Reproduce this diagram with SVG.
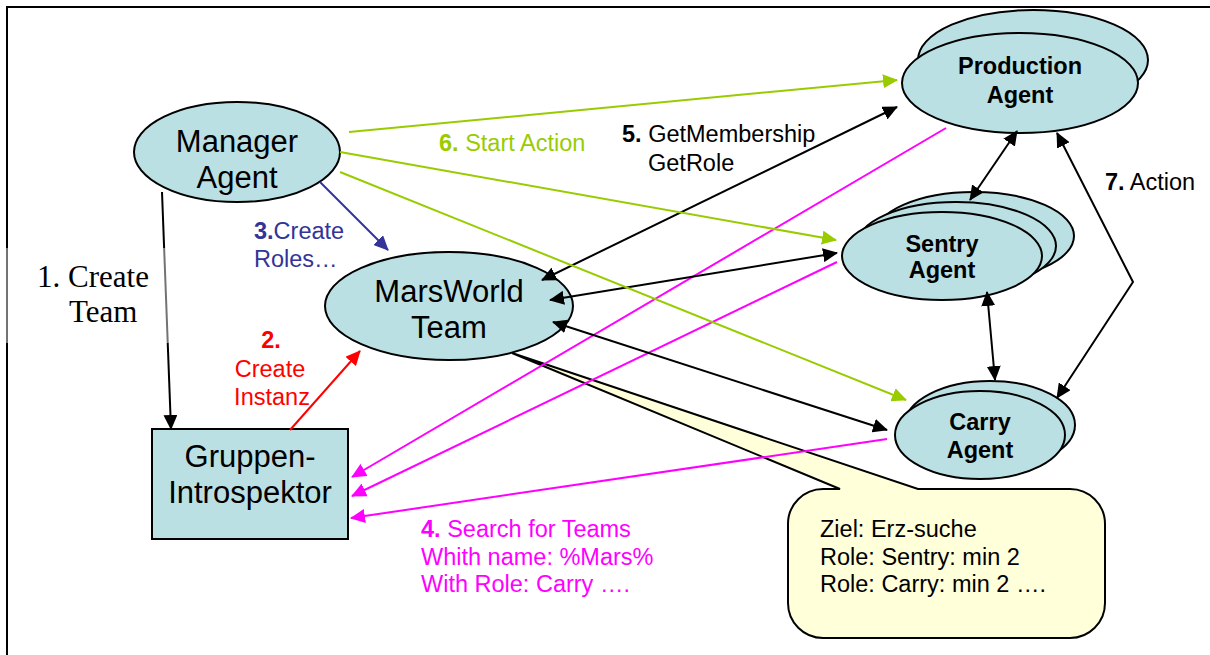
<svg xmlns="http://www.w3.org/2000/svg" width="1210" height="655" viewBox="0 0 1210 655">
  <style>
    .node { fill: #BBE0E3; stroke: #000; stroke-width: 2; }
    .big { font-family: "Liberation Sans", Arial, sans-serif; font-size: 31px; fill: #000; text-anchor: middle; }
    .agent { font-family: "Liberation Sans", Arial, sans-serif; font-size: 23.5px; font-weight: bold; fill: #000; text-anchor: middle; }
    .lbl { font-family: "Liberation Sans", Arial, sans-serif; font-size: 23.5px; }
    .serif { font-family: "Liberation Serif", "Times New Roman", serif; font-size: 31px; fill: #000; }
    .b { font-weight: bold; }
    .edge { fill: none; stroke-width: 2; }
    .k { stroke: #000; }
    .g { stroke: #99CC00; }
    .m { stroke: #FF00FF; }
    .r { stroke: #FF0000; }
    .bl { stroke: #333399; }
  </style>
  <defs>
    <marker id="ak" markerUnits="userSpaceOnUse" markerWidth="15" markerHeight="14" refX="14" refY="7" orient="auto-start-reverse">
      <path d="M0,0 L15,7 L0,14 Z" fill="#000"/>
    </marker>
    <marker id="ag" markerUnits="userSpaceOnUse" markerWidth="15" markerHeight="14" refX="14" refY="7" orient="auto">
      <path d="M0,0 L15,7 L0,14 Z" fill="#99CC00"/>
    </marker>
    <marker id="am" markerUnits="userSpaceOnUse" markerWidth="15" markerHeight="14" refX="14" refY="7" orient="auto">
      <path d="M0,0 L15,7 L0,14 Z" fill="#FF00FF"/>
    </marker>
    <marker id="ar" markerUnits="userSpaceOnUse" markerWidth="15" markerHeight="14" refX="14" refY="7" orient="auto">
      <path d="M0,0 L15,7 L0,14 Z" fill="#FF0000"/>
    </marker>
    <marker id="ab" markerUnits="userSpaceOnUse" markerWidth="15" markerHeight="14" refX="14" refY="7" orient="auto">
      <path d="M0,0 L15,7 L0,14 Z" fill="#333399"/>
    </marker>
  </defs>

  <rect width="1210" height="655" fill="#fff"/>
  <!-- page frame -->
  <rect x="7" y="7" width="1220" height="670" fill="none" stroke="#000" stroke-width="2"/>

  <!-- nodes -->
  <g id="manager-agent">
    <ellipse class="node" cx="237" cy="152" rx="103" ry="50"/>
    <text class="big" x="237" y="152">Manager</text>
    <text class="big" x="237" y="188">Agent</text>
  </g>
  <g id="marsworld-team">
    <ellipse class="node" cx="449" cy="306" rx="124" ry="54"/>
    <text class="big" x="449" y="302">MarsWorld</text>
    <text class="big" x="449" y="338">Team</text>
  </g>
  <g id="gruppen-introspektor">
    <rect class="node" x="152" y="429" width="196" height="110"/>
    <text class="big" x="250" y="467">Gruppen-</text>
    <text class="big" x="250" y="503">Introspektor</text>
  </g>
  <g id="production-agent">
    <ellipse class="node" cx="1033" cy="60" rx="115" ry="50"/>
    <ellipse class="node" cx="1020" cy="83" rx="118" ry="50"/>
    <text class="agent" x="1020" y="74">Production</text>
    <text class="agent" x="1020" y="103">Agent</text>
  </g>
  <g id="sentry-agent">
    <ellipse class="node" cx="974" cy="236" rx="100" ry="44"/>
    <ellipse class="node" cx="956" cy="246" rx="100" ry="44"/>
    <ellipse class="node" cx="942" cy="256" rx="100" ry="44"/>
    <text class="agent" x="942" y="252">Sentry</text>
    <text class="agent" x="942" y="278">Agent</text>
  </g>
  <g id="carry-agent">
    <ellipse class="node" cx="990" cy="425" rx="85" ry="44"/>
    <ellipse class="node" cx="980" cy="435" rx="85" ry="44"/>
    <text class="agent" x="980" y="430">Carry</text>
    <text class="agent" x="980" y="458">Agent</text>
  </g>
  <g id="team-goal-note">
    <path d="M788,524 A35,35 0 0 1 823,489 L840,489 L512,353 L918,489 L1070,489 A35,35 0 0 1 1105,524 L1105,603 A35,35 0 0 1 1070,638 L823,638 A35,35 0 0 1 788,603 Z" fill="#FFFFDA" stroke="#000" stroke-width="2" stroke-linejoin="miter"/>
    <text class="lbl" fill="#000" x="820" y="537">Ziel: Erz-suche</text>
    <text class="lbl" fill="#000" x="820" y="565">Role: Sentry: min 2</text>
    <text class="lbl" fill="#000" x="820" y="592">Role: Carry: min 2 ….</text>
  </g>

  <!-- connectors -->
  <g id="connectors">
    <!-- 1. create team -->
    <path class="edge k" d="M162,192 L171,429" marker-end="url(#ak)"/>
    <!-- 2. create instance -->
    <path class="edge r" d="M290,430 L360,351" marker-end="url(#ar)"/>
    <!-- 3. create roles -->
    <path class="edge bl" d="M320,182 L388,250" marker-end="url(#ab)"/>
    <!-- 4. search for teams -->
    <path class="edge m" d="M946,128 L352,477" marker-end="url(#am)"/>
    <path class="edge m" d="M837,262 L352,496" marker-end="url(#am)"/>
    <path class="edge m" d="M887,439 L351,518" marker-end="url(#am)"/>
    <!-- 5. membership / role queries -->
    <path class="edge k" d="M542,280 L897,107" marker-start="url(#ak)" marker-end="url(#ak)"/>
    <path class="edge k" d="M550,300 L837,253" marker-start="url(#ak)" marker-end="url(#ak)"/>
    <path class="edge k" d="M553,322 L887,430" marker-start="url(#ak)" marker-end="url(#ak)"/>
    <!-- 6. start action -->
    <path class="edge g" d="M349,132 L897,80" marker-end="url(#ag)"/>
    <path class="edge g" d="M340,152 L836,240" marker-end="url(#ag)"/>
    <path class="edge g" d="M340,172 L906,400" marker-end="url(#ag)"/>
    <!-- 7. action between agents -->
    <path class="edge k" d="M1017,131 L970,200" marker-start="url(#ak)" marker-end="url(#ak)"/>
    <path class="edge k" d="M987,292 L995,380" marker-start="url(#ak)" marker-end="url(#ak)"/>
    <path class="edge k" d="M1057,133 L1133,282 L1057,398" marker-start="url(#ak)" marker-end="url(#ak)"/>
  </g>

  <!-- labels -->
  <rect x="5" y="248" width="165" height="95" fill="#fff" opacity="0.45"/>
  <text class="serif" x="37" y="287">1. Create</text>
  <text class="serif" x="69" y="322">Team</text>

  <text class="lbl" fill="#FF0000" text-anchor="middle" x="271" y="348"><tspan class="b">2.</tspan></text>
  <text class="lbl" fill="#FF0000" text-anchor="middle" x="270" y="377">Create</text>
  <text class="lbl" fill="#FF0000" text-anchor="middle" x="272" y="405">Instanz</text>

  <text class="lbl" fill="#333399" x="254" y="239"><tspan class="b">3.</tspan>Create</text>
  <text class="lbl" fill="#333399" x="254" y="267">Roles…</text>

  <text class="lbl" fill="#FF00FF" x="421" y="537"><tspan class="b">4.</tspan> Search for Teams</text>
  <text class="lbl" fill="#FF00FF" x="421" y="565">Whith name: %Mars%</text>
  <text class="lbl" fill="#FF00FF" x="421" y="592">With Role: Carry ….</text>

  <text class="lbl" fill="#000" x="622" y="142"><tspan class="b">5.</tspan> GetMembership</text>
  <text class="lbl" fill="#000" x="648" y="171">GetRole</text>

  <text class="lbl" fill="#99CC00" x="439" y="151"><tspan class="b">6.</tspan> Start Action</text>

  <text class="lbl" fill="#000" x="1105" y="190"><tspan class="b">7.</tspan> Action</text>
</svg>
